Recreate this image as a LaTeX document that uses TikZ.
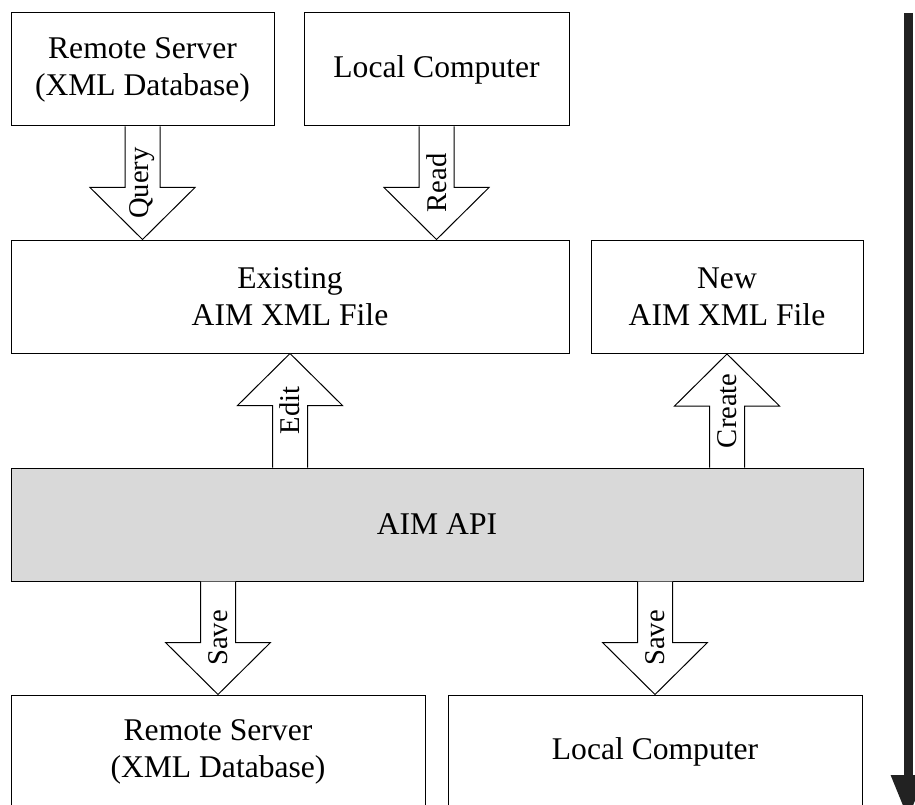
\documentclass[tikz,border=0pt]{standalone}
\usepackage{fontspec}
\setmainfont{Liberation Serif}
\usetikzlibrary{calc,arrows.meta}
\definecolor{apigray}{HTML}{D9D9D9}
\definecolor{flowdark}{HTML}{222222}
\tikzset{
  box/.style={draw=black, line width=1pt, inner sep=0pt, align=center,
    font=\fontsize{31.6}{37}\selectfont},
  fatarrow/.style={draw=black, fill=white, line width=1pt, line join=miter,
    to path={let \p1=(\tikztostart), \p2=(\tikztotarget),
      \n1={ifthenelse(\y2>\y1,1,-1)} in
      (\x1-17.5pt,\y1) -- (\x1-17.5pt,\y2-\n1*52pt) -- (\x1-52.5pt,\y2-\n1*52pt)
      -- (\x1,\y2) -- (\x1+52.5pt,\y2-\n1*52pt) -- (\x1+17.5pt,\y2-\n1*52pt)
      -- (\x1+17.5pt,\y1)}},
  arrowlabel/.style={rotate=90, inner sep=0pt, font=\fontsize{28.6}{34}\selectfont}
}
\begin{document}
\begin{tikzpicture}[x=1pt,y=-1pt]
\useasboundingbox (0,0) rectangle (915,805);
% boxes
\node[box, minimum width=263pt, minimum height=113pt] (rs1) at (142.5,69.5) {Remote Server\\(XML Database)};
\node[box, minimum width=265pt, minimum height=113pt] (lc1) at (436.5,69.5) {Local Computer};
\node[box, minimum width=558pt, minimum height=113pt] (ex) at (290,296.5) {Existing\\AIM XML File};
\node[box, minimum width=272pt, minimum height=113pt] (nw) at (727,297) {New\\AIM XML File};
\node[box, fill=apigray, minimum width=852pt, minimum height=113pt] (api) at (437,524.5) {AIM API};
\node[box, minimum width=414pt, minimum height=113pt] (rs2) at (218,751.5) {Remote Server\\(XML Database)};
\node[box, minimum width=414pt, minimum height=113pt] (lc2) at (655,751.5) {Local Computer};
% block arrows
\path[fatarrow] (rs1.south) to (rs1.south |- ex.north);
\path (rs1.south) -- (rs1.south |- ex.north) node[midway, arrowlabel] {Query};
\path[fatarrow] (lc1.south) to (lc1.south |- ex.north);
\path (lc1.south) -- (lc1.south |- ex.north) node[midway, arrowlabel] {Read};
\path[fatarrow] (ex.south |- api.north) to (ex.south);
\path (ex.south |- api.north) -- (ex.south) node[midway, arrowlabel] {Edit};
\path[fatarrow] (nw.south |- api.north) to (nw.south);
\path (nw.south |- api.north) -- (nw.south) node[midway, arrowlabel] {Create};
\path[fatarrow] (rs2.north |- api.south) to (rs2.north);
\path (rs2.north |- api.south) -- (rs2.north) node[midway, arrowlabel] {Save};
\path[fatarrow] (lc2.north |- api.south) to (lc2.north);
\path (lc2.north |- api.south) -- (lc2.north) node[midway, arrowlabel] {Save};
% long flow arrow
\coordinate (flowtop) at (908,13);
\coordinate (flowend) at (908,819);
\draw[flowdark, line width=9pt, -{Triangle[width=32pt,length=44pt]}] (flowtop) -- (flowend);
\end{tikzpicture}
\end{document}
